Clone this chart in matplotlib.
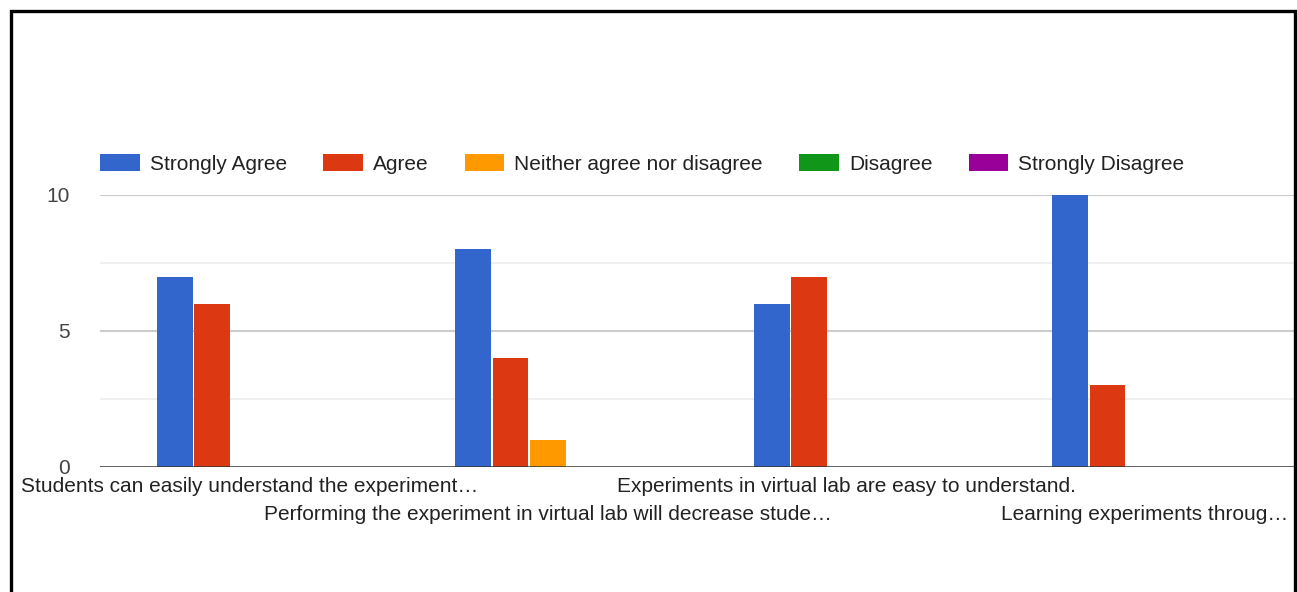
import matplotlib
matplotlib.use("Agg")
import matplotlib.pyplot as plt
import matplotlib.patches as patches
import numpy as np

plt.rcParams["font.family"] = ["Liberation Sans", "DejaVu Sans"]

# ---------------- survey responses ----------------
questions = [
    "Students can easily understand the experiment…",
    "Performing the experiment in virtual lab will decrease stude…",
    "Experiments in virtual lab are easy to understand.",
    "Learning experiments throug…",
]
responses = ["Strongly Agree", "Agree", "Neither agree nor disagree",
             "Disagree", "Strongly Disagree"]
strongly_agree = [7, 8, 6, 10]
agree = [6, 4, 7, 3]
neither = [0, 1, 0, 0]
disagree = [0, 0, 0, 0]
strongly_disagree = [0, 0, 0, 0]
yticks = [0, 5, 10]

series = [strongly_agree, agree, neither, disagree, strongly_disagree]
colors = ["#3366cc", "#dc3912", "#ff9900", "#109618", "#990099"]
TXT = "#222222"

fig = plt.figure(figsize=(12.97, 5.92), dpi=100)
ax = fig.add_axes([100 / 1297, 1 - 467 / 592, 1194 / 1297, 272 / 592])

x = np.arange(len(questions))
step, width = 0.125, 0.12
for i, (vals, name, c) in enumerate(zip(series, responses, colors)):
    ax.bar(x + (i - 2) * step, vals, width=width, color=c, label=name,
           linewidth=0, zorder=3)

ax.set_xlim(-0.5, len(questions) - 0.5)
ax.set_ylim(0, 10)

# gridlines: major at labelled ticks, faint minor in between
for v in [2.5, 7.5]:
    ax.axhline(v, color="#ececec", linewidth=1.2, zorder=1)
for v in yticks[1:]:
    ax.axhline(v, color="#cccccc", linewidth=1.5, zorder=1)
ax.axhline(0, color="#333333", linewidth=1.8, zorder=4)

for s in ax.spines.values():
    s.set_visible(False)

ax.set_yticks(yticks)
ax.set_yticklabels([str(v) for v in yticks], fontsize=15, color="#444444")
ax.tick_params(axis="y", length=0, pad=22)

ax.set_xticks(x)
ax.set_xticklabels(questions, fontsize=15, color=TXT)
ax.tick_params(axis="x", length=0)
for i, t in enumerate(ax.xaxis.get_major_ticks()):
    t.set_pad(7 if i % 2 == 0 else 27)

ax.legend(loc="center left", bbox_to_anchor=(0, 1.114), ncol=5,
          frameon=False, fontsize=15, borderaxespad=0, borderpad=0,
          handlelength=1.9, handleheight=0.9, handletextpad=0.48,
          columnspacing=1.75, labelcolor=TXT)

# black frame round the whole chart (bottom edge runs off the image)
fig.add_artist(patches.Rectangle((11.5 / 1297, -0.1), 1283 / 1297, 1.1 - 10.5 / 592,
                                 transform=fig.transFigure, fill=False,
                                 ec="black", linewidth=2.4, zorder=10))

fig.savefig("out.png", dpi=100)
